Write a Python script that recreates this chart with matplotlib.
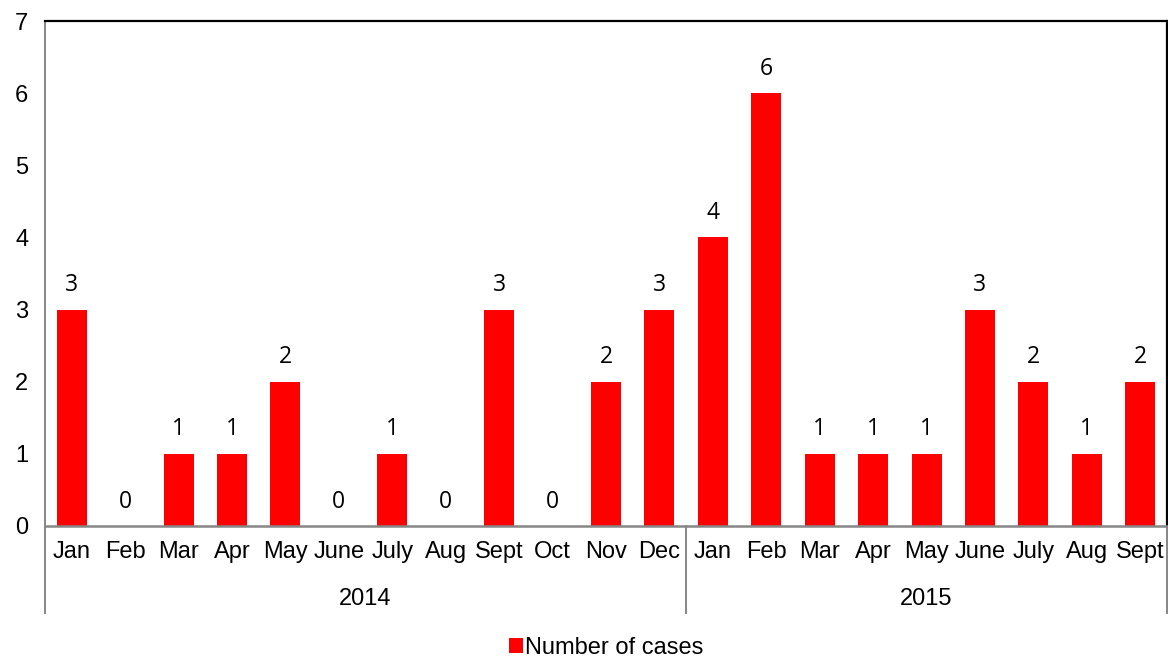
import matplotlib.pyplot as plt
import matplotlib.transforms as mtransforms
from matplotlib.patches import Patch

months = ["Jan", "Feb", "Mar", "Apr", "May", "June", "July", "Aug", "Sept", "Oct", "Nov", "Dec",
          "Jan", "Feb", "Mar", "Apr", "May", "June", "July", "Aug", "Sept"]
cases = [3, 0, 1, 1, 2, 0, 1, 0, 3, 0, 2, 3,
         4, 6, 1, 1, 1, 3, 2, 1, 2]
years = ["2014", "2015"]
months_per_year = [12, 9]

plt.rcParams["font.family"] = ["Liberation Sans", "DejaVu Sans"]

fig = plt.figure(figsize=(11.68, 6.57), dpi=100)
ax = fig.add_axes([45 / 1168, 1 - 526 / 657, 1122 / 1168, 505 / 657])

x = list(range(len(cases)))
bars = ax.bar(x, cases, width=0.56, color="#ff0000")

for xi, v in zip(x, cases):
    ax.annotate(str(v), (xi, v), xytext=(0, 9), textcoords="offset points",
                ha="center", va="bottom", fontsize=16.5, family=["Open Sans", "DejaVu Sans"])

ax.set_xlim(-0.5, len(cases) - 0.5)
ax.set_ylim(0, 7)
ax.set_yticks(range(8))
ax.tick_params(axis="y", length=0, labelsize=17, pad=12)
ax.set_xticks(x)
ax.set_xticklabels(months, fontsize=17)
ax.tick_params(axis="x", length=0, pad=11)

ax.spines["left"].set_color("#868686")
ax.spines["bottom"].set_color("#868686")
ax.spines["left"].set_linewidth(1.4)
ax.spines["bottom"].set_linewidth(1.8)
ax.spines["top"].set_color("black")
ax.spines["right"].set_color("black")
ax.spines["top"].set_linewidth(1.6)
ax.spines["right"].set_linewidth(1.6)

# year groups below the month labels
trans = mtransforms.blended_transform_factory(ax.transData, ax.transAxes)
bottom = -(613 - 526) / 505
start = -0.5
for yr, n in zip(years, months_per_year):
    end = start + n
    ax.text((start + end) / 2, -(599 - 526) / 505, yr, transform=trans,
            ha="center", va="center", fontsize=17)
    ax.plot([start, start], [0, bottom], transform=trans, color="#868686",
            lw=1.4, clip_on=False)
    start = end
ax.plot([start, start], [0, bottom], transform=trans, color="#868686",
        lw=1.4, clip_on=False)

ax.legend(handles=[Patch(facecolor="#ff0000", label="Number of cases")],
          loc="center", bbox_to_anchor=(0.5, -(648 - 526) / 505),
          frameon=False, fontsize=17, handlelength=0.6, handleheight=0.6,
          handletextpad=0.1)

fig.savefig("out.png", dpi=100)
